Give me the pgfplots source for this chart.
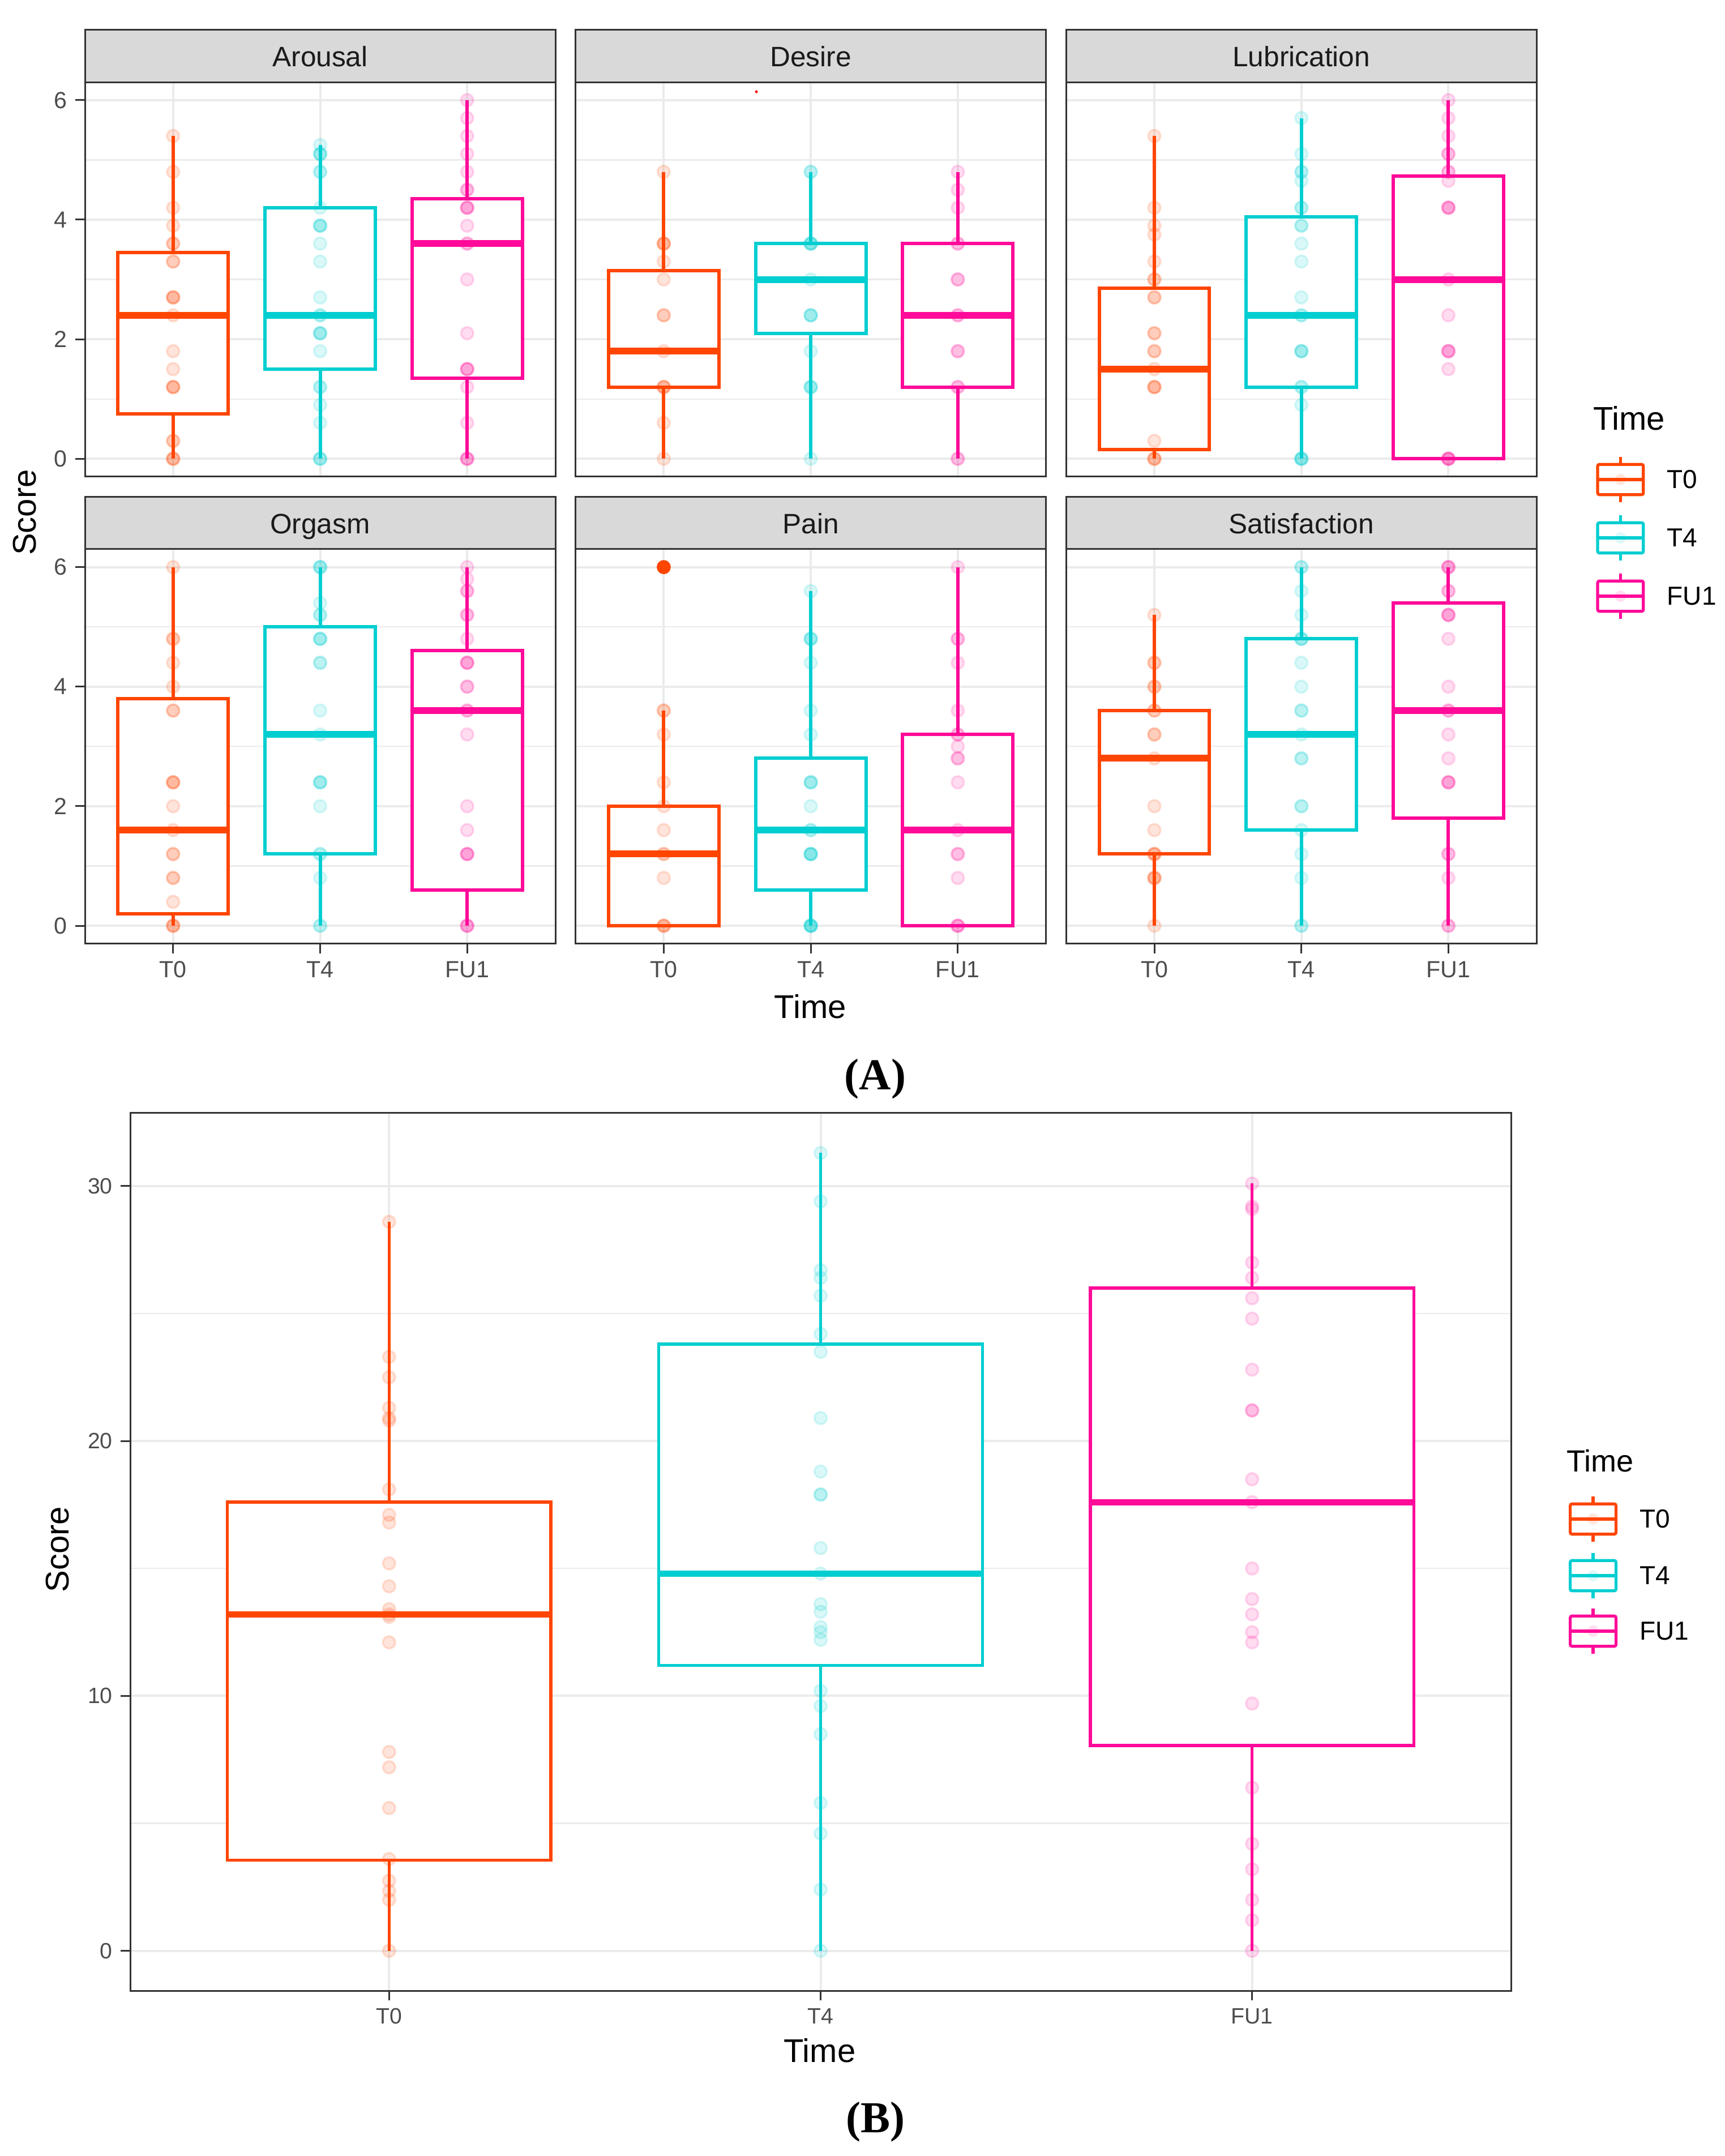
\documentclass[border=0pt]{standalone}
\usepackage{fontspec}
\setmainfont{Liberation Sans}
\newfontfamily\serifbf{Liberation Serif}
\usepackage{pgfplots}
\pgfplotsset{compat=1.18}
\usepgfplotslibrary{statistics}

\definecolor{cTa}{HTML}{FF4500}
\definecolor{cTb}{HTML}{00CED1}
\definecolor{cFU}{HTML}{FF0A99}
\definecolor{gr92}{HTML}{EBEBEB}
\definecolor{gr85}{HTML}{D9D9D9}
\definecolor{gr30}{HTML}{4D4D4D}
\definecolor{gr20}{HTML}{333333}
\definecolor{gr10}{HTML}{1A1A1A}

\pgfplotsset{
  base/.style={scale only axis, xmin=0.4, xmax=3.6,
    xtick={1,2,3}, xticklabels={T0,T4,FU1},
    grid=major, yminorgrids=true,
    grid style={line width=1pt, gr92},
    minor grid style={line width=0.55pt, gr92},
    axis line style={line width=0.75pt, gr20},
    tick align=outside, tick pos=left,
    major tick length=4.3pt, minor tick length=0pt,
    tick style={line width=0.75pt, gr20},
    tick label style={text=gr30},
    /pgf/number format/assume math mode=true},
  facet/.style={base, width=207.75pt, height=174.2pt,
    ymin=-0.3, ymax=6.3, ytick={0,2,4,6}, minor ytick={1,3,5},
    tick label style={font=\fontsize{10.3}{12}\selectfont}},
  nox/.style={xticklabels={}, xtick style={draw=none}},
  noy/.style={yticklabels={}, ytick style={draw=none}},
  bx/.style={solid, fill=white, line width=1.5pt,
    boxplot prepared={draw direction=y, box extend=0.75, whisker extend=0,
      every median/.style={line width=3pt}, #1}},
  pts/.style={only marks, mark=*, mark size=2.75pt,
    mark options={opacity=0.14, line width=0.9pt}},
}

% strip above a facet panel
\newcommand{\strip}[2]{%
  \draw[fill=gr85, draw=gr20, line width=0.75pt]
    (#1.north west) rectangle ([yshift=23.1pt]#1.north east);
  \node[anchor=base, text=gr10, font=\fontsize{12.4}{14}\selectfont, inner sep=0]
    at ([yshift=6.8pt]#1.north) {#2};}

% legend key: x, y, colour, label
\newcommand{\legkey}[4]{%
  \begin{scope}[shift={(#1,#2)}]
    \fill[#3, opacity=0.13] (0,0) circle (2.5pt);
    \draw[#3, line width=1.3pt, rounded corners=0.8pt] (-10.1pt,-6.7pt) rectangle (10.1pt,6.7pt);
    \draw[#3, line width=1.3pt] (-10.1pt,0) -- (10.1pt,0)
      (0,6.7pt) -- (0,10.1pt) (0,-6.7pt) -- (0,-10.1pt);
    \node[anchor=west, font=\fontsize{11.5}{13}\selectfont, inner sep=0] at (20.4pt,0) {#4};
  \end{scope}}

\begin{document}
\begin{tikzpicture}
\path[use as bounding box] (0,0) rectangle (761.75pt,952pt);

% ---------------- panel A ----------------
\begin{axis}[facet, nox, name=ar, at={(37.5pt,741.5pt)}, anchor=south west]
\addplot[draw=cTa, bx={draw position=1, lower whisker=0, lower quartile=0.75, median=2.4, upper quartile=3.45, upper whisker=5.4}] coordinates {};
\addplot[draw=cTb, bx={draw position=2, lower whisker=0, lower quartile=1.5, median=2.4, upper quartile=4.2, upper whisker=5.25}] coordinates {};
\addplot[draw=cFU, bx={draw position=3, lower whisker=0, lower quartile=1.35, median=3.6, upper quartile=4.35, upper whisker=6}] coordinates {};
\addplot[cTa, pts] coordinates {(1,5.4)(1,4.8)(1,4.2)(1,3.9)(1,3.6)(1,3.6)(1,3.3)(1,3.3)(1,2.7)(1,2.7)(1,2.7)(1,2.4)(1,1.8)(1,1.5)(1,1.2)(1,1.2)(1,1.2)(1,0.3)(1,0.3)(1,0)(1,0)(1,0)};
\addplot[cTb, pts] coordinates {(2,5.25)(2,5.1)(2,5.1)(2,5.1)(2,4.8)(2,4.8)(2,4.2)(2,3.9)(2,3.9)(2,3.9)(2,3.6)(2,3.3)(2,2.7)(2,2.4)(2,2.4)(2,2.1)(2,2.1)(2,2.1)(2,1.8)(2,1.2)(2,1.2)(2,0.9)(2,0.6)(2,0)(2,0)(2,0)};
\addplot[cFU, pts] coordinates {(3,6)(3,5.7)(3,5.4)(3,5.1)(3,4.8)(3,4.5)(3,4.5)(3,4.2)(3,4.2)(3,4.2)(3,3.9)(3,3.6)(3,3.6)(3,3.0)(3,2.1)(3,1.5)(3,1.5)(3,1.5)(3,1.2)(3,0.6)(3,0)(3,0)(3,0)};
\end{axis}

\begin{axis}[facet, nox, noy, name=de, at={(254.15pt,741.5pt)}, anchor=south west]
\addplot[draw=cTa, bx={draw position=1, lower whisker=0, lower quartile=1.2, median=1.8, upper quartile=3.15, upper whisker=4.8}] coordinates {};
\addplot[draw=cTb, bx={draw position=2, lower whisker=0, lower quartile=2.1, median=3.0, upper quartile=3.6, upper whisker=4.8}] coordinates {};
\addplot[draw=cFU, bx={draw position=3, lower whisker=0, lower quartile=1.2, median=2.4, upper quartile=3.6, upper whisker=4.8}] coordinates {};
\addplot[cTa, pts] coordinates {(1,4.8)(1,3.6)(1,3.6)(1,3.6)(1,3.3)(1,3.0)(1,2.4)(1,2.4)(1,1.8)(1,1.2)(1,1.2)(1,1.2)(1,0.6)(1,0)};
\addplot[cTb, pts] coordinates {(2,4.8)(2,4.8)(2,3.6)(2,3.6)(2,3.6)(2,3.6)(2,3.0)(2,2.4)(2,2.4)(2,2.4)(2,1.8)(2,1.2)(2,1.2)(2,1.2)(2,0)};
\addplot[cFU, pts] coordinates {(3,4.8)(3,4.5)(3,4.2)(3,3.6)(3,3.6)(3,3.0)(3,3.0)(3,2.4)(3,2.4)(3,1.8)(3,1.8)(3,1.2)(3,1.2)(3,0)(3,0)};
\addplot[only marks, mark=*, mark size=0.45pt, red] coordinates {(1.63,6.14)};
\end{axis}

\begin{axis}[facet, nox, noy, name=lu, at={(470.8pt,741.5pt)}, anchor=south west]
\addplot[draw=cTa, bx={draw position=1, lower whisker=0, lower quartile=0.15, median=1.5, upper quartile=2.85, upper whisker=5.4}] coordinates {};
\addplot[draw=cTb, bx={draw position=2, lower whisker=0, lower quartile=1.2, median=2.4, upper quartile=4.05, upper whisker=5.7}] coordinates {};
\addplot[draw=cFU, bx={draw position=3, lower whisker=0, lower quartile=0, median=3.0, upper quartile=4.725, upper whisker=6}] coordinates {};
\addplot[cTa, pts] coordinates {(1,5.4)(1,4.2)(1,3.9)(1,3.75)(1,3.3)(1,3.0)(1,3.0)(1,2.7)(1,2.7)(1,2.1)(1,2.1)(1,1.8)(1,1.8)(1,1.5)(1,1.2)(1,1.2)(1,1.2)(1,0.3)(1,0)(1,0)(1,0)};
\addplot[cTb, pts] coordinates {(2,5.7)(2,5.1)(2,4.8)(2,4.8)(2,4.65)(2,4.2)(2,4.2)(2,3.9)(2,3.9)(2,3.6)(2,3.3)(2,2.7)(2,2.4)(2,2.4)(2,1.8)(2,1.8)(2,1.8)(2,1.2)(2,1.2)(2,0.9)(2,0)(2,0)(2,0)(2,0)};
\addplot[cFU, pts] coordinates {(3,6)(3,5.7)(3,5.4)(3,5.1)(3,5.1)(3,4.8)(3,4.8)(3,4.65)(3,4.2)(3,4.2)(3,4.2)(3,3.0)(3,2.4)(3,1.8)(3,1.8)(3,1.8)(3,1.5)(3,0)(3,0)(3,0)(3,0)};
\end{axis}

\begin{axis}[facet, name=or, at={(37.5pt,535.3pt)}, anchor=south west]
\addplot[draw=cTa, bx={draw position=1, lower whisker=0, lower quartile=0.2, median=1.6, upper quartile=3.8, upper whisker=6}] coordinates {};
\addplot[draw=cTb, bx={draw position=2, lower whisker=0, lower quartile=1.2, median=3.2, upper quartile=5.0, upper whisker=6}] coordinates {};
\addplot[draw=cFU, bx={draw position=3, lower whisker=0, lower quartile=0.6, median=3.6, upper quartile=4.6, upper whisker=6}] coordinates {};
\addplot[cTa, pts] coordinates {(1,6)(1,4.8)(1,4.8)(1,4.4)(1,4.0)(1,3.6)(1,3.6)(1,2.4)(1,2.4)(1,2.4)(1,2.0)(1,1.6)(1,1.2)(1,1.2)(1,0.8)(1,0.8)(1,0.4)(1,0)(1,0)(1,0)};
\addplot[cTb, pts] coordinates {(2,6)(2,6)(2,6)(2,5.4)(2,5.2)(2,5.2)(2,4.8)(2,4.8)(2,4.8)(2,4.4)(2,4.4)(2,3.6)(2,3.2)(2,2.4)(2,2.4)(2,2.4)(2,2.0)(2,1.2)(2,1.2)(2,0.8)(2,0)(2,0)};
\addplot[cFU, pts] coordinates {(3,6)(3,5.8)(3,5.6)(3,5.6)(3,5.2)(3,5.2)(3,4.8)(3,4.4)(3,4.4)(3,4.4)(3,4.0)(3,4.0)(3,3.6)(3,3.6)(3,3.2)(3,2.0)(3,1.6)(3,1.2)(3,1.2)(3,1.2)(3,0)(3,0)(3,0)};
\end{axis}

\begin{axis}[facet, noy, name=pa, at={(254.15pt,535.3pt)}, anchor=south west]
\addplot[draw=cTa, bx={draw position=1, lower whisker=0, lower quartile=0, median=1.2, upper quartile=2.0, upper whisker=3.6}] coordinates {};
\addplot[draw=cTb, bx={draw position=2, lower whisker=0, lower quartile=0.6, median=1.6, upper quartile=2.8, upper whisker=5.6}] coordinates {};
\addplot[draw=cFU, bx={draw position=3, lower whisker=0, lower quartile=0, median=1.6, upper quartile=3.2, upper whisker=6}] coordinates {};
\addplot[only marks, mark=*, mark size=2.9pt, cTa] coordinates {(1,6)};
\addplot[cTa, pts] coordinates {(1,3.6)(1,3.6)(1,3.2)(1,2.4)(1,2.0)(1,1.6)(1,1.2)(1,1.2)(1,0.8)(1,0)(1,0)(1,0)};
\addplot[cTb, pts] coordinates {(2,5.6)(2,4.8)(2,4.8)(2,4.8)(2,4.4)(2,3.6)(2,3.2)(2,2.4)(2,2.4)(2,2.4)(2,2.0)(2,1.6)(2,1.6)(2,1.2)(2,1.2)(2,1.2)(2,1.2)(2,0)(2,0)(2,0)(2,0)(2,0)};
\addplot[cFU, pts] coordinates {(3,6)(3,4.8)(3,4.8)(3,4.4)(3,3.6)(3,3.2)(3,3.2)(3,3.0)(3,2.8)(3,2.8)(3,2.4)(3,1.6)(3,1.2)(3,1.2)(3,0.8)(3,0)(3,0)(3,0)};
\end{axis}

\begin{axis}[facet, noy, name=sa, at={(470.8pt,535.3pt)}, anchor=south west]
\addplot[draw=cTa, bx={draw position=1, lower whisker=0, lower quartile=1.2, median=2.8, upper quartile=3.6, upper whisker=5.2}] coordinates {};
\addplot[draw=cTb, bx={draw position=2, lower whisker=0, lower quartile=1.6, median=3.2, upper quartile=4.8, upper whisker=6}] coordinates {};
\addplot[draw=cFU, bx={draw position=3, lower whisker=0, lower quartile=1.8, median=3.6, upper quartile=5.4, upper whisker=6}] coordinates {};
\addplot[cTa, pts] coordinates {(1,5.2)(1,4.4)(1,4.4)(1,4.0)(1,4.0)(1,3.6)(1,3.6)(1,3.2)(1,3.2)(1,2.8)(1,2.0)(1,1.6)(1,1.2)(1,1.2)(1,1.2)(1,0.8)(1,0.8)(1,0.8)(1,0)};
\addplot[cTb, pts] coordinates {(2,6)(2,6)(2,5.6)(2,5.2)(2,4.8)(2,4.8)(2,4.8)(2,4.4)(2,4.0)(2,3.6)(2,3.6)(2,3.2)(2,2.8)(2,2.8)(2,2.0)(2,2.0)(2,1.6)(2,1.2)(2,0.8)(2,0)(2,0)};
\addplot[cFU, pts] coordinates {(3,6)(3,6)(3,6)(3,5.6)(3,5.6)(3,5.2)(3,5.2)(3,5.2)(3,4.8)(3,4.0)(3,3.6)(3,3.6)(3,3.2)(3,2.8)(3,2.4)(3,2.4)(3,2.4)(3,1.2)(3,1.2)(3,0.8)(3,0)(3,0)};
\end{axis}

\strip{ar}{Arousal}\strip{de}{Desire}\strip{lu}{Lubrication}
\strip{or}{Orgasm}\strip{pa}{Pain}\strip{sa}{Satisfaction}

\node[font=\fontsize{14.5}{16}\selectfont] at (357.8pt,507.5pt) {Time};
\node[font=\fontsize{14.5}{16}\selectfont, rotate=90] at (10.9pt,725.75pt) {Score};
\node[anchor=base west, font=\fontsize{14.5}{16}\selectfont, inner sep=0] at (703.3pt,762pt) {Time};
\legkey{715.6pt}{740.25pt}{cTa}{T0}
\legkey{715.6pt}{714.5pt}{cTb}{T4}
\legkey{715.6pt}{688.75pt}{cFU}{FU1}
\node[anchor=base, font=\serifbf\bfseries\fontsize{19.5}{22}\selectfont, inner sep=0] at (386.5pt,470.75pt) {(A)};

% ---------------- panel B ----------------
\begin{axis}[base, name=tot, at={(57.5pt,73pt)}, anchor=south west,
  width=609.75pt, height=387.5pt, ymin=-1.565, ymax=32.865,
  ytick={0,10,20,30}, minor ytick={5,15,25},
  tick label style={font=\fontsize{9.8}{11}\selectfont}]
\addplot[draw=cTa, bx={draw position=1, lower whisker=0, lower quartile=3.55, median=13.2, upper quartile=17.6, upper whisker=28.6, every median/.style={line width=2.8pt}}, line width=1.35pt] coordinates {};
\addplot[draw=cTb, bx={draw position=2, lower whisker=0, lower quartile=11.2, median=14.8, upper quartile=23.8, upper whisker=31.3, every median/.style={line width=2.8pt}}, line width=1.35pt] coordinates {};
\addplot[draw=cFU, bx={draw position=3, lower whisker=0, lower quartile=8.05, median=17.6, upper quartile=26.0, upper whisker=30.1, every median/.style={line width=2.8pt}}, line width=1.35pt] coordinates {};
\addplot[cTa, pts] coordinates {(1,28.6)(1,23.3)(1,22.5)(1,21.3)(1,20.9)(1,20.8)(1,18.1)(1,17.1)(1,16.8)(1,15.2)(1,14.3)(1,13.4)(1,13.2)(1,13.1)(1,12.1)(1,7.8)(1,7.2)(1,5.6)(1,3.6)(1,2.75)(1,2.35)(1,2.0)(1,0)};
\addplot[cTb, pts] coordinates {(2,31.3)(2,29.4)(2,26.7)(2,26.4)(2,25.7)(2,24.2)(2,23.5)(2,20.9)(2,18.8)(2,17.9)(2,17.9)(2,15.8)(2,14.8)(2,13.6)(2,13.3)(2,12.7)(2,12.5)(2,12.2)(2,10.2)(2,9.6)(2,8.5)(2,5.8)(2,4.6)(2,2.4)(2,0)};
\addplot[cFU, pts] coordinates {(3,30.1)(3,29.2)(3,29.1)(3,27.0)(3,26.4)(3,25.6)(3,24.8)(3,22.8)(3,21.2)(3,21.2)(3,18.5)(3,17.6)(3,15.0)(3,13.8)(3,13.2)(3,12.5)(3,12.1)(3,9.7)(3,6.4)(3,4.2)(3,3.2)(3,2.0)(3,1.2)(3,0)};
\end{axis}

\node[font=\fontsize{14.5}{16}\selectfont] at (362pt,46.5pt) {Time};
\node[font=\fontsize{14.5}{16}\selectfont, rotate=90] at (25.5pt,267.8pt) {Score};
\node[anchor=base west, font=\fontsize{13.5}{15}\selectfont, inner sep=0] at (691.75pt,302pt) {Time};
\legkey{703.5pt}{281.25pt}{cTa}{T0}
\legkey{703.5pt}{256.25pt}{cTb}{T4}
\legkey{703.5pt}{231.75pt}{cFU}{FU1}
\node[anchor=base, font=\serifbf\bfseries\fontsize{19.5}{22}\selectfont, inner sep=0] at (386.5pt,10.3pt) {(B)};
\end{tikzpicture}
\end{document}
